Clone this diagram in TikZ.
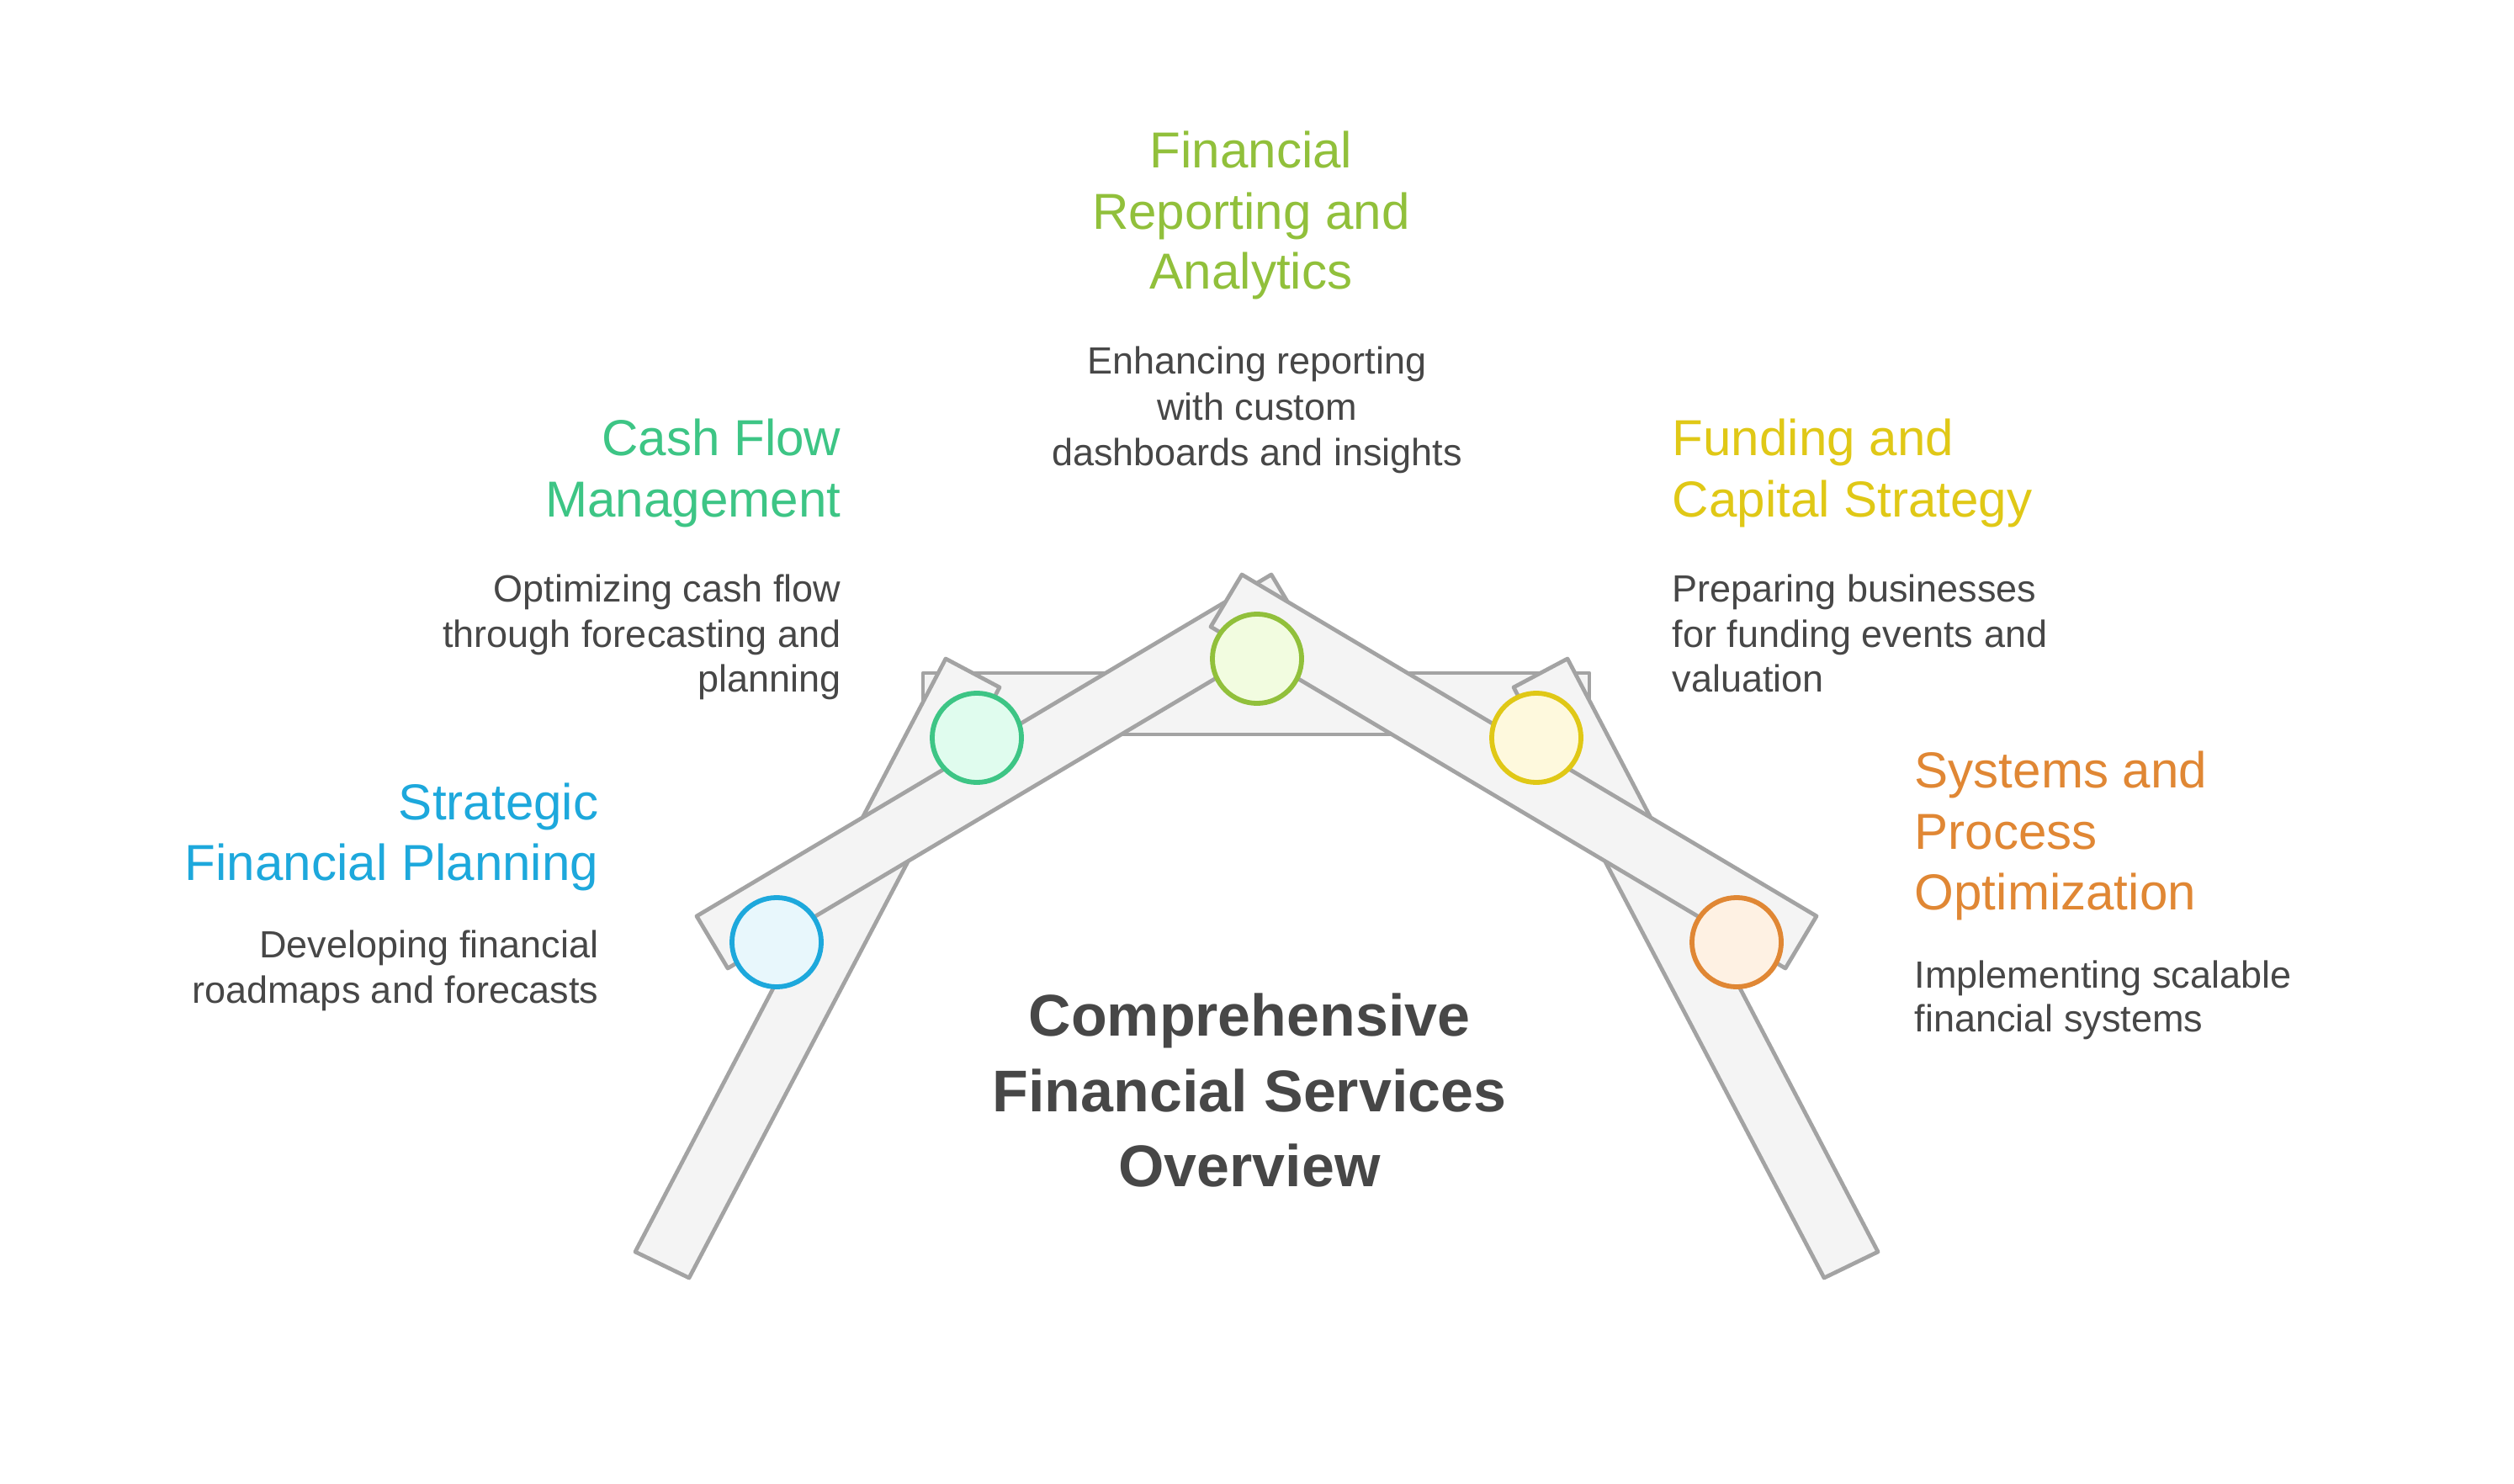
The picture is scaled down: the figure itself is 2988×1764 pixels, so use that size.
\documentclass[tikz,border=0pt]{standalone}
\usepackage{fontspec}
\setmainfont{Liberation Sans}
\definecolor{beamline}{HTML}{A3A3A3}
\definecolor{beamfill}{HTML}{F4F4F4}
\definecolor{txt}{HTML}{474747}
\definecolor{cblue}{HTML}{1DA8DC}
\definecolor{cbluef}{HTML}{E8F7FC}
\definecolor{cgreen}{HTML}{3DC585}
\definecolor{cgreenf}{HTML}{E0FCEE}
\definecolor{colive}{HTML}{91C03B}
\definecolor{colivef}{HTML}{F2FCE0}
\definecolor{cyellow}{HTML}{E0C816}
\definecolor{cyellowf}{HTML}{FEF9DD}
\definecolor{corange}{HTML}{E08734}
\definecolor{corangef}{HTML}{FEF1E3}
\begin{document}
\begin{tikzpicture}[x=0.01cm,y=-0.01cm,
  beam/.style={draw=beamline, fill=beamfill, line width=1.35pt, line join=round},
  dot/.style={circle, minimum size=1.06cm, inner sep=0pt, line width=1.65pt},
  head/.style={inner sep=0pt, font=\fontsize{17.1}{20}\selectfont},
  body/.style={inner sep=0pt, text=txt, font=\fontsize{12.8}{15}\selectfont},
  ttl/.style={inner sep=0pt, text=txt, font=\fontsize{19.9}{25}\selectfont\bfseries}]
\fill[white] (0,0) rectangle (2988,1764);
\useasboundingbox (0,0) rectangle (2988,1764);

% crossbar
\draw[beam] (1097,800) rectangle (1889,873);
% legs
\draw[beam] (1124,783) -- (1188,817) -- (819,1519) -- (755,1488) -- cycle;
\draw[beam] (1863,783) -- (1799,817) -- (2168,1519) -- (2232,1488) -- cycle;
% beams
\draw[beam] (828,1089) -- (1511,683) -- (1548,745) -- (865,1151) -- cycle;
\draw[beam] (2159,1089) -- (1476,683) -- (1439,745) -- (2122,1151) -- cycle;

% circles
\node[dot, draw=cblue, fill=cbluef] (c1) at (923,1120) {};
\node[dot, draw=cgreen, fill=cgreenf] (c2) at (1161,877) {};
\node[dot, draw=colive, fill=colivef] (c3) at (1494,783) {};
\node[dot, draw=cyellow, fill=cyellowf] (c4) at (1826,877) {};
\node[dot, draw=corange, fill=corangef] (c5) at (2064,1120) {};

% top block
\node[head, text=colive, anchor=base] (t1) at (1487,200) {Financial};
\node[head, text=colive, anchor=base] (t2) at (1487,272.5) {Reporting and};
\node[head, text=colive, anchor=base] (t3) at (1487,343.5) {Analytics};
\node[body, anchor=base] (tb1) at (1494,445) {Enhancing reporting};
\node[body, anchor=base] (tb2) at (1494,499) {with custom};
\node[body, anchor=base] (tb3) at (1494,553) {dashboards and insights};

% cash flow
\node[head, text=cgreen, anchor=base east] (g1) at (1000,541.7) {Cash Flow};
\node[head, text=cgreen, anchor=base east] (g2) at (1000,614) {Management};
\node[body, anchor=base east] (gb1) at (1000,715) {Optimizing cash flow};
\node[body, anchor=base east] (gb2) at (1000,769) {through forecasting and};
\node[body, anchor=base east] (gb3) at (1000,822.7) {planning};

% strategic
\node[head, text=cblue, anchor=base east] (s1) at (712,974) {Strategic};
\node[head, text=cblue, anchor=base east] (s2) at (712,1046.5) {Financial Planning};
\node[body, anchor=base east] (sb1) at (712,1138.5) {Developing financial};
\node[body, anchor=base east] (sb2) at (712,1192) {roadmaps and forecasts};

% funding
\node[head, text=cyellow, anchor=base west] (f1) at (1987,541.7) {Funding and};
\node[head, text=cyellow, anchor=base west] (f2) at (1987,614) {Capital Strategy};
\node[body, anchor=base west] (fb1) at (1987,715.5) {Preparing businesses};
\node[body, anchor=base west] (fb2) at (1987,769) {for funding events and};
\node[body, anchor=base west] (fb3) at (1987,822.7) {valuation};

% systems
\node[head, text=corange, anchor=base west] (p1) at (2275,936.7) {Systems and};
\node[head, text=corange, anchor=base west] (p2) at (2275,1009.3) {Process};
\node[head, text=corange, anchor=base west] (p3) at (2275,1081.7) {Optimization};
\node[body, anchor=base west] (pb1) at (2275,1174) {Implementing scalable};
\node[body, anchor=base west] (pb2) at (2275,1226.7) {financial systems};

% title
\node[ttl, anchor=base] (m1) at (1485,1231.7) {Comprehensive};
\node[ttl, anchor=base] (m2) at (1485,1321.7) {Financial Services};
\node[ttl, anchor=base] (m3) at (1485,1410.7) {Overview};
\end{tikzpicture}
\end{document}
